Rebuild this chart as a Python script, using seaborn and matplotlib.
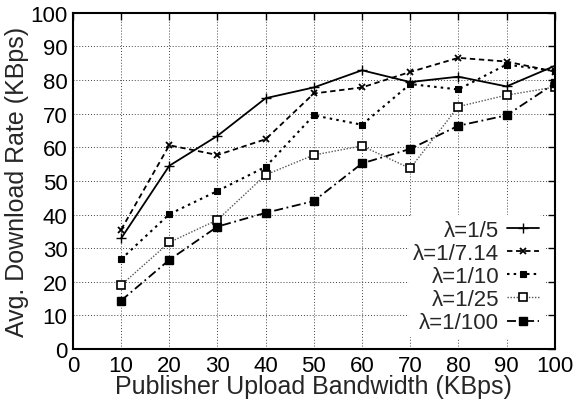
import numpy as np
import pandas as pd
import matplotlib
matplotlib.use("Agg")
import matplotlib.pyplot as plt
import seaborn as sns

x = [10, 20, 30, 40, 50, 60, 70, 80, 90, 100]
labels = ["λ=1/5", "λ=1/7.14", "λ=1/10", "λ=1/25", "λ=1/100"]
y_5 = [32.9, 54.5, 63.4, 74.6, 77.8, 82.9, 79.4, 81.0, 78.1, 84.2]
y_714 = [35.5, 60.6, 57.7, 62.4, 76.0, 77.8, 82.4, 86.6, 85.5, 82.5]
y_10 = [26.7, 40.1, 47.0, 54.2, 69.5, 66.7, 78.8, 77.2, 84.6, 82.7]
y_25 = [19.0, 31.7, 38.4, 51.8, 57.7, 60.4, 53.7, 72.1, 75.5, 77.9]
y_100 = [14.4, 26.5, 36.4, 40.5, 44.0, 55.2, 59.5, 66.4, 69.5, 79.0]
series = [y_5, y_714, y_10, y_25, y_100]
xticks = list(range(0, 101, 10))
yticks = list(range(0, 101, 10))

sns.set_theme(style="white")
plt.rcParams['font.family'] = ['Liberation Sans', 'DejaVu Sans']

fig = plt.figure(figsize=(5.79, 4.06), dpi=100)
ax = fig.add_axes([0.126, 0.138, 0.832, 0.828])

styles = [
    dict(linestyle='-', marker='+', markersize=7, mfc='black', mec='black', color='black', lw=1.3, mew=1.0),
    dict(linestyle=(0, (3, 2)), marker='x', markersize=5, mfc='black', mec='black', color='black', lw=1.3, mew=1.3),
    dict(linestyle=(0, (1.2, 2)), marker='s', markersize=4, mfc='black', mec='black', color='black', lw=1.5, mew=0.8),
    dict(linestyle=(0, (1, 1.2)), marker='s', markersize=5.5, mfc='white', color='#555555', lw=1.0, mew=1.2, mec='black'),
    dict(linestyle=(0, (5, 2, 1, 2)), marker='s', markersize=6, mfc='black', mec='black', color='black', lw=1.3, mew=1.0),
]

rows = []
for lab, ys in zip(labels, series):
    for xi, yi in zip(x, ys):
        rows.append({"bw": xi, "rate": yi, "series": lab})
df = pd.DataFrame(rows)

for lab, st in zip(labels, styles):
    sub = df[df["series"] == lab]
    st = dict(st)
    ls = st.pop('linestyle')
    sns.lineplot(data=sub, x="bw", y="rate", ax=ax, linestyle=ls,
                 estimator=None, legend=False, **st)

lines = ax.get_lines()[:len(labels)]
for ln, lab in zip(lines, labels):
    ln.set_label(lab)

ax.set_xlim(0, 100)
ax.set_ylim(0, 100)
ax.set_xticks(xticks)
ax.set_yticks(yticks)
ax.grid(True, color='#444444', linestyle=(0, (1, 2)), linewidth=0.7)
ax.set_axisbelow(True)
for s in ax.spines.values():
    s.set_linewidth(1.5)
    s.set_color('black')
ax.tick_params(direction='in', length=5, width=1, top=True, right=True,
               labelsize=16, pad=4, colors='black')
ax.set_xlabel("Publisher Upload Bandwidth (KBps)", fontsize=18, labelpad=-1)
ax.set_ylabel("Avg. Download Rate (KBps)", fontsize=18, labelpad=1)

leg = ax.legend(handles=lines, labels=labels, loc='lower right', markerfirst=False,
                frameon=True, fontsize=16,
                handlelength=1.45, handletextpad=0.35, labelspacing=0.1,
                borderaxespad=0.5, borderpad=0.2)
leg.get_frame().set_edgecolor('none')
leg.get_frame().set_facecolor('white')
leg.get_frame().set_alpha(1)
for t in leg.get_texts():
    t.set_ha('right')

fig.savefig("out.png", dpi=100)
